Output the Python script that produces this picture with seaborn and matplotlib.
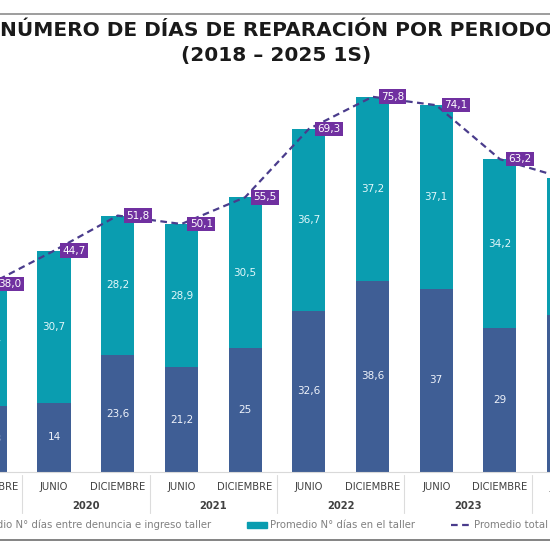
import numpy as np
import pandas as pd
import matplotlib
matplotlib.use("Agg")
import matplotlib.pyplot as plt
from matplotlib.lines import Line2D
from matplotlib.patches import Patch
import seaborn as sns

# datos (promedio de días por periodo)
meses = ["DICIEMBRE", "JUNIO", "DICIEMBRE", "JUNIO", "DICIEMBRE",
         "JUNIO", "DICIEMBRE", "JUNIO", "DICIEMBRE", "JUNIO"]
anios = ["2019", "2020", "2020", "2021", "2021",
         "2022", "2022", "2023", "2023", "2024"]
entre_denuncia = [13.3, 14, 23.6, 21.2, 25, 32.6, 38.6, 37, 29, 31.7]
en_taller = [24.7, 30.7, 28.2, 28.9, 30.5, 36.7, 37.2, 37.1, 34.2, 27.7]
total = [38.0, 44.7, 51.8, 50.1, 55.5, 69.3, 75.8, 74.1, 63.2, 59.4]

df = pd.DataFrame({"periodo": [m + " " + a for m, a in zip(meses, anios)],
                   "entre": entre_denuncia, "taller": en_taller, "total": total})

C_OSCURO = "#3f5e95"
C_TEAL = "#0a9db0"
C_LINEA = "#4a3c8c"
C_CAJA = "#7030a0"

sns.set_style("white")
plt.rcParams["font.family"] = ["DejaVu Sans"]

W = H = 550
fig = plt.figure(figsize=(5.5, 5.5), dpi=100)
base_px, top_px = 472, 70
ax = fig.add_axes([0, (H - base_px) / H, 1, (base_px - top_px) / H])
ax_h = base_px - top_px

sns.barplot(data=df, x="periodo", y="total", color=C_TEAL, width=0.52,
            linewidth=0, saturation=1, ax=ax)
sns.barplot(data=df, x="periodo", y="entre", color=C_OSCURO, width=0.52,
            linewidth=0, saturation=1, ax=ax)
pos = np.arange(len(df))
sns.lineplot(x=pos, y=df["total"], color=C_LINEA, lw=1.6, ax=ax,
             dashes=False, zorder=4)
ax.lines[-1].set_dashes((3, 2))

def fmt(v):
    return f"{v:g}".replace(".", ",")

for i, r in df.iterrows():
    ax.text(i, r.entre / 2, fmt(r.entre), ha="center", va="center",
            fontsize=7.5, color="#eef2fa", zorder=5)
    ax.text(i, r.entre + r.taller / 2, fmt(r.taller), ha="center", va="center",
            fontsize=7.5, color="#e2f7fa", zorder=5)
    ax.annotate(f"{r.total:.1f}".replace(".", ","), (i, r.total),
                xytext=(6, 0), textcoords="offset points", ha="left", va="center",
                fontsize=7.5, color="white", zorder=6, annotation_clip=False,
                bbox=dict(boxstyle="square,pad=0.22", fc=C_CAJA, ec="none"))

ax.set_yticks([])
ax.set_xticks([])
ax.set_ylabel("")
ax.set_xlabel("")
for s in ["top", "left", "right"]:
    ax.spines[s].set_visible(False)
ax.spines["bottom"].set_color("#d9d9d9")

# meses, años y separadores
trans = ax.get_xaxis_transform()
for i, m in enumerate(meses):
    ax.text(i, -15 / ax_h, m, transform=trans, ha="center", va="center",
            fontsize=7.2, color="#404040", clip_on=False)
for a in sorted(set(anios)):
    idx = [i for i, y in enumerate(anios) if y == a]
    xc = np.mean(idx) if len(idx) == 2 else (idx[0] - 0.5 if a == "2019" else idx[0] + 0.5)
    ax.text(xc, -34 / ax_h, a, transform=trans, ha="center", va="center",
            fontsize=7.2, fontweight="bold", color="#404040", clip_on=False)
for i in range(len(df) - 1):
    if anios[i] != anios[i + 1]:
        ax.plot([i + 0.5, i + 0.5], [-3 / ax_h, -41 / ax_h], transform=trans,
                color="#dcdcdc", lw=0.8, clip_on=False)

# vista recortada como en la imagen original
sp = 63.7
x0 = 9.7 / sp
ax.set_xlim(x0, x0 + W / sp)
ax.set_ylim(0, ax_h / 4.95)

fig.text(276 / W, 1 - 31 / H, "NÚMERO DE DÍAS DE REPARACIÓN POR PERIODO",
         ha="center", va="center", fontsize=14.5, fontweight="bold", color="#1a1a1a")
fig.text(276 / W, 1 - 55 / H, "(2018 – 2025 1S)",
         ha="center", va="center", fontsize=14.5, fontweight="bold", color="#1a1a1a")

fig.add_artist(Line2D([0, 1], [1 - 14 / H] * 2, color="#8c8c8c", lw=1.2))
fig.add_artist(Line2D([0, 1], [1 - 540 / H] * 2, color="#6e6e6e", lw=1.2))

handles = [Patch(color=C_OSCURO), Patch(color=C_TEAL),
           Line2D([], [], color=C_LINEA, lw=1.6, dashes=(3, 2))]
labels = ["Promedio N° días entre denuncia e ingreso taller",
          "Promedio N° días en el taller", "Promedio total"]
fig.legend(handles, labels, loc="center left", bbox_to_anchor=(-58 / W, 1 - 525 / H),
           ncol=3, frameon=False, fontsize=7.3, labelcolor="#808080",
           handlelength=2, handleheight=0.5, handletextpad=0.3, columnspacing=3.5,
           borderpad=0, borderaxespad=0)

fig.savefig("out.png", dpi=100, facecolor="white")
